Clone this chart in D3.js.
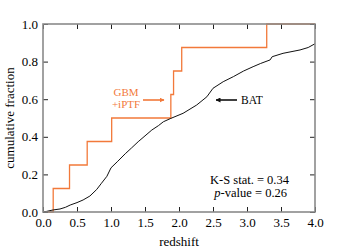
<!DOCTYPE html>
<html>
<head>
<meta charset="utf-8">
<script src="https://cdn.jsdelivr.net/npm/d3@7"></script>
<style>
    body { margin: 0; background: #fff; }
    svg { display: block; font-family: "Liberation Serif", "DejaVu Serif", serif; }
</style>
</head>
<body>
<svg id="chart"></svg>
<script>

// GBM + iPTF step CDF (redshift, cumulative fraction)
const gbmZ = [0.0, 0.15, 0.39, 0.65, 1.01, 1.88, 1.92, 2.04, 3.29, 4.0];
const gbmF = [0.0, 0.125, 0.25, 0.375, 0.5, 0.625, 0.75, 0.875, 1.0, 1.0];

// BAT cumulative distribution
const batZ = [0.0, 0.05, 0.15, 0.25, 0.33, 0.40, 0.50, 0.59, 0.69, 0.79, 0.86, 0.94, 1.0,
    1.1, 1.21, 1.30, 1.40, 1.50, 1.60, 1.70, 1.77, 1.88, 2.06, 2.26, 2.41, 2.50,
    2.65, 2.80, 2.95, 3.09, 3.20, 3.34, 3.37, 3.53, 3.78, 3.90, 4.0];
const batF = [0.0, 0.003, 0.011, 0.016, 0.025, 0.037, 0.05, 0.064, 0.085, 0.12, 0.153, 0.19, 0.235,
    0.27, 0.31, 0.34, 0.374, 0.405, 0.436, 0.46, 0.48, 0.498, 0.525, 0.569, 0.613, 0.658,
    0.693, 0.72, 0.75, 0.773, 0.79, 0.809, 0.826, 0.844, 0.862, 0.875, 0.895];

const xTicks = [0, 0.5, 1, 1.5, 2, 2.5, 3, 3.5, 4];
const yTicks = [0, 0.2, 0.4, 0.6, 0.8, 1.0];

const width = 350, height = 250;
const margin = {top: 24, right: 35, bottom: 38, left: 43};
const orange = "#f2793a";
const frameColor = "#8a8a8a";

const svg = d3.select("#chart").attr("width", width).attr("height", height);

const x = d3.scaleLinear().domain([0, 4]).range([margin.left, width - margin.right]);
const y = d3.scaleLinear().domain([0, 1]).range([height - margin.bottom, margin.top]);

// curves
const gbm = gbmZ.map((z, i) => [z, gbmF[i]]);
const bat = batZ.map((z, i) => [z, batF[i]]);

svg.append("path")
    .datum(gbm)
    .attr("fill", "none")
    .attr("stroke", orange)
    .attr("stroke-width", 1.3)
    .attr("d", d3.line().x(d => x(d[0])).y(d => y(d[1])).curve(d3.curveStepAfter));

svg.append("path")
    .datum(bat)
    .attr("fill", "none")
    .attr("stroke", "#111")
    .attr("stroke-width", 1)
    .attr("d", d3.line().x(d => x(d[0])).y(d => y(d[1])));

// axes, ticks pointing inward
const fmt = d3.format(".1f");
const styleAxis = g => {
    g.select(".domain").remove();
    g.selectAll(".tick line").attr("stroke", "#222");
    g.selectAll(".tick text").attr("fill", "#000").style("font-size", "13px")
        .style("font-family", "'Liberation Serif', serif");
};

svg.append("g")
    .attr("transform", `translate(0,${y(0)})`)
    .call(d3.axisBottom(x).tickValues(xTicks).tickFormat(fmt).tickSize(-5).tickPadding(6))
    .call(styleAxis);
svg.append("g")
    .attr("transform", `translate(0,${y(1)})`)
    .call(d3.axisTop(x).tickValues(xTicks).tickFormat("").tickSize(-5))
    .call(styleAxis);
svg.append("g")
    .attr("transform", `translate(${x(0)},0)`)
    .call(d3.axisLeft(y).tickValues(yTicks).tickFormat(fmt).tickSize(-5).tickPadding(5))
    .call(styleAxis);
svg.append("g")
    .attr("transform", `translate(${x(4)},0)`)
    .call(d3.axisRight(y).tickValues(yTicks).tickFormat("").tickSize(-5))
    .call(styleAxis);

// frame
svg.append("rect")
    .attr("x", x(0))
    .attr("y", y(1))
    .attr("width", x(4) - x(0))
    .attr("height", y(0) - y(1))
    .attr("fill", "none")
    .attr("stroke", frameColor)
    .attr("stroke-width", 1.6);

// axis titles
svg.append("text")
    .attr("x", (x(0) + x(4)) / 2)
    .attr("y", 246)
    .attr("text-anchor", "middle")
    .style("font-size", "13px")
    .text("redshift");

svg.append("text")
    .attr("transform", `translate(14,${(y(0) + y(1)) / 2}) rotate(-90)`)
    .attr("text-anchor", "middle")
    .style("font-size", "13px")
    .text("cumulative fraction");

// arrow markers
const defs = svg.append("defs");
[["arrOrange", orange], ["arrBlack", "#111"]].forEach(([id, c]) => {
    defs.append("marker")
        .attr("id", id)
        .attr("viewBox", "0 0 10 10")
        .attr("refX", 9).attr("refY", 5)
        .attr("markerWidth", 5).attr("markerHeight", 5)
        .attr("markerUnits", "userSpaceOnUse")
        .attr("orient", "auto")
        .append("path")
        .attr("d", "M0,0 L10,5 L0,10 Z")
        .attr("fill", c);
});

// GBM + iPTF label
svg.append("text")
    .attr("x", 126).attr("y", 96)
    .attr("text-anchor", "middle")
    .attr("fill", orange)
    .style("font-size", "11px")
    .text("GBM");
svg.append("text")
    .attr("x", 126).attr("y", 108)
    .attr("text-anchor", "middle")
    .attr("fill", orange)
    .style("font-size", "11px")
    .text("+iPTF");

svg.append("line")
    .attr("x1", 143).attr("y1", 100)
    .attr("x2", 164).attr("y2", 100)
    .attr("stroke", orange).attr("stroke-width", 1.6)
    .attr("marker-end", "url(#arrOrange)");

// BAT label
svg.append("line")
    .attr("x1", 237).attr("y1", 100)
    .attr("x2", 216).attr("y2", 100)
    .attr("stroke", "#111").attr("stroke-width", 1.6)
    .attr("marker-end", "url(#arrBlack)");

svg.append("text")
    .attr("x", 241)
    .attr("y", 104)
    .style("font-size", "11.5px")
    .text("BAT");

// K-S annotation
const ks = svg.append("text")
    .attr("text-anchor", "end")
    .style("font-size", "12.5px");
ks.append("tspan").attr("x", 289).attr("y", 184).text("K-S stat. = 0.34");
const pv = ks.append("tspan").attr("x", 287).attr("y", 197);
pv.append("tspan").style("font-style", "italic").text("p");
pv.append("tspan").text("-value = 0.26");

</script>
</body>
</html>
